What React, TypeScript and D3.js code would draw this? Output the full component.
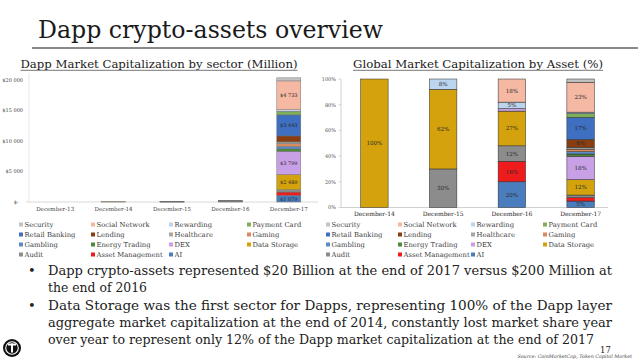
import React from "react";
import * as d3 from "d3";

const categoriesL = ["December-13", "December-14", "December-15", "December-16", "December-17"];
const categoriesR = ["December-14", "December-15", "December-16", "December-17"];
const sectors = ["Security", "Social Network", "Rewarding", "Payment Card", "Retail Banking", "Lending", "Healthcare", "Gaming", "Gambling", "Energy Trading", "DEX", "Data Storage", "Audit", "Asset Management", "AI"];
const sectorColors = ["#c3c3c3", "#f4b8a3", "#bcd4ee", "#7fae5a", "#3e6fc0", "#8a3d10", "#a6a6a6", "#d98b5f", "#5b8bc4", "#4f8a3a", "#c8a0e6", "#d4a20c", "#8c8c8c", "#ee1c1c", "#4a7dbd"];

// Market capitalization in $ million, per sector (order of `sectors`), per December (13..17)
const capSecurity = [0, 0, 0, 0, 500];
const capSocial = [0, 0, 0, 41, 4733];
const capRewarding = [0, 0, 6, 11, 250];
const capPayment = [0, 0, 0, 0, 600];
const capRetail = [0, 0, 0, 0, 3443];
const capLending = [0, 0, 0, 0, 980];
const capHealthcare = [0, 0, 0, 0, 300];
const capGaming = [0, 0, 0, 0, 450];
const capGambling = [0, 0, 0, 0, 400];
const capEnergy = [0, 0, 0, 0, 400];
const capDEX = [0, 0, 0, 5, 3799];
const capDataStorage = [0, 40, 50, 62, 2489];
const capAudit = [0, 0, 24, 28, 380];
const capAsset = [0, 0, 0, 37, 550];
const capAI = [0, 0, 0, 46, 1079];
const capValues = [capSecurity, capSocial, capRewarding, capPayment, capRetail, capLending, capHealthcare, capGaming, capGambling, capEnergy, capDEX, capDataStorage, capAudit, capAsset, capAI];

// Share of market capitalization in %, per sector, per December (14..17)
const pctSecurity = [0, 0, 0, 2.5];
const pctSocial = [0, 0, 18, 23.3];
const pctRewarding = [0, 8, 5, 1.2];
const pctPayment = [0, 0, 0, 2.9];
const pctRetail = [0, 0, 0, 17.2];
const pctLending = [0, 0, 0, 6];
const pctHealthcare = [0, 0, 0, 1.5];
const pctGaming = [0, 0, 0, 2];
const pctGambling = [0, 0, 0, 1.8];
const pctEnergy = [0, 0, 0, 1.7];
const pctDEX = [0, 0, 2, 18.2];
const pctDataStorage = [100, 62, 27, 12];
const pctAudit = [0, 30, 12, 2];
const pctAsset = [0, 0, 16, 2.7];
const pctAI = [0, 0, 20, 5];
const pctValues = [pctSecurity, pctSocial, pctRewarding, pctPayment, pctRetail, pctLending, pctHealthcare, pctGaming, pctGambling, pctEnergy, pctDEX, pctDataStorage, pctAudit, pctAsset, pctAI];

const capTicks = [0, 5000, 10000, 15000, 20000];
const pctTicks = [0, 20, 40, 60, 80, 100];

const FONT = "DejaVu Serif";
const colorOf = (s: string) => sectorColors[sectors.indexOf(s)];
const stackKeys = [...sectors].reverse();

function buildRows(cats: string[], vals: number[][]) {
  return cats.map((c, i) => {
    const r: any = { cat: c };
    sectors.forEach((s, k) => (r[s] = vals[k][i]));
    return r;
  });
}

function Legend({ x0, cols }: { x0: number; cols: number[] }) {
  return (
    <g>
      {sectors.map((s, i) => {
        const col = i % 4;
        const row = Math.floor(i / 4);
        const x = x0 + cols[col];
        const y = 224.5 + row * 10;
        return (
          <g key={s}>
            <rect x={x} y={y - 2} width={4} height={4} fill={colorOf(s)} />
            <text x={x + 5.5} y={y + 2.3} fontSize={6.8} fontFamily={FONT} fill="#404040">{s}</text>
          </g>
        );
      })}
    </g>
  );
}

export default function App() {
  // left chart
  const xL = d3.scaleBand().domain(categoriesL).range([26, 318]);
  const yL = d3.scaleLinear().domain([0, 20000]).range([202, 80]);
  const bwL = 24;
  const seriesL = d3.stack().keys(stackKeys)(buildRows(categoriesL, capValues));
  const fmtCap = (v: number) => (v === 0 ? "$-" : "$" + d3.format(",")(v).replace(/,/g, " "));

  // right chart
  const xR = d3.scaleBand().domain(categoriesR).range([340, 615]);
  const yR = d3.scaleLinear().domain([0, 100]).range([207.5, 79]);
  const bwR = 27.5;
  const seriesR = d3.stack().keys(stackKeys)(buildRows(categoriesR, pctValues));

  return (
    <svg width={638} height={359} style={{ position: "absolute", left: 0, top: 0, background: "#fff" }}>
      <rect width={638} height={359} fill="#fff" />
      {/* Title */}
      <text x={38} y={38} fontSize={24} fontFamily={FONT} fill="#1a1a1a" textLength={345} lengthAdjust="spacingAndGlyphs">Dapp crypto-assets overview</text>
      <line x1={32} x2={638} y1={48} y2={48} stroke="#8a8a8a" strokeWidth={2} />

      {/* Left chart */}
      <text x={20.5} y={68} fontSize={10.5} fontFamily={FONT} fill="#1a1a1a" textLength={277} lengthAdjust="spacingAndGlyphs">Dapp Market Capitalization by sector (Million)</text>
      <line x1={20.5} x2={297.5} y1={70.3} y2={70.3} stroke="#1a1a1a" strokeWidth={0.6} />
      <line x1={29} x2={29} y1={73} y2={202} stroke="#d9d9d9" strokeWidth={0.6} />
      <line x1={26} x2={318} y1={202} y2={202} stroke="#cfcfcf" strokeWidth={0.8} />
      {capTicks.map((t) => (
        <text key={t} x={t === 0 ? 18.5 : 23} y={yL(t) + 1.8} fontSize={5} fontFamily={FONT} fill="#404040" textAnchor="end">{fmtCap(t)}</text>
      ))}
      {categoriesL.map((c) => (
        <text key={c} x={xL(c)! + xL.bandwidth() / 2} y={211} fontSize={5.6} fontFamily={FONT} fill="#404040" textAnchor="middle">{c}</text>
      ))}
      {seriesL.map((ser) => (
        <g key={ser.key} fill={colorOf(ser.key)}>
          {ser.map((d, i) => {
            const v = d[1] - d[0];
            if (v <= 0) return null;
            const cat = categoriesL[i];
            const x = xL(cat)! + xL.bandwidth() / 2 - bwL / 2;
            const y = yL(d[1]);
            const h = yL(d[0]) - yL(d[1]);
            return (
              <g key={cat}>
                <rect x={x} y={y} width={bwL} height={Math.max(h, 0.3)} stroke="#6a6a6a" strokeWidth={0.45} />
                {v > 1000 && (
                  <text x={x + bwL / 2} y={y + h / 2 + 1.8} fontSize={5} fontFamily={FONT} fill="#2a2a2a" textAnchor="middle">{fmtCap(v)}</text>
                )}
              </g>
            );
          })}
        </g>
      ))}
      <Legend x0={19} cols={[0, 72, 150, 228]} />

      {/* Right chart */}
      <text x={353} y={68} fontSize={10.5} fontFamily={FONT} fill="#1a1a1a" textLength={250} lengthAdjust="spacingAndGlyphs">Global Market Capitalization by Asset (%)</text>
      <line x1={353} x2={603} y1={70.3} y2={70.3} stroke="#1a1a1a" strokeWidth={0.6} />
      <line x1={341} x2={341} y1={79} y2={207.5} stroke="#bdbdbd" strokeWidth={0.7} />
      <line x1={341} x2={608} y1={207.5} y2={207.5} stroke="#bdbdbd" strokeWidth={0.7} />
      {pctTicks.map((t) => (
        <g key={t}>
          <line x1={338.5} x2={341} y1={yR(t)} y2={yR(t)} stroke="#bdbdbd" strokeWidth={0.6} />
          <text x={336} y={yR(t) + 1.8} fontSize={5} fontFamily={FONT} fill="#505050" textAnchor="end">{t + "%"}</text>
        </g>
      ))}
      {categoriesR.map((c) => (
        <text key={c} x={xR(c)! + xR.bandwidth() / 2} y={216} fontSize={6} fontFamily={FONT} fill="#262626" textAnchor="middle">{c}</text>
      ))}
      {seriesR.map((ser) => (
        <g key={ser.key} fill={colorOf(ser.key)}>
          {ser.map((d, i) => {
            const v = d[1] - d[0];
            if (v <= 0) return null;
            const cat = categoriesR[i];
            const x = xR(cat)! + xR.bandwidth() / 2 - bwR / 2;
            const y = yR(d[1]);
            const h = yR(d[0]) - yR(d[1]);
            return (
              <g key={cat}>
                <rect x={x} y={y} width={bwR} height={h} stroke="#2a2a2a" strokeWidth={0.5} />
                {v >= 5 && (
                  <text x={x + bwR / 2} y={y + h / 2 + 2} fontSize={5.6} fontFamily={FONT} fill="#2a2a2a" textAnchor="middle">{Math.round(v) + "%"}</text>
                )}
              </g>
            );
          })}
        </g>
      ))}
      <Legend x0={326} cols={[0, 72, 145, 217]} />

      {/* Bullets */}
      <g fontFamily={FONT} fill="#222" fontSize={12.5}>
        <text x={28} y={275} fontSize={13}>•</text>
        <text x={48} y={275} textLength={564} lengthAdjust="spacingAndGlyphs">Dapp crypto-assets represented $20 Billion at the end of 2017 versus $200 Million at</text>
        <text x={48} y={292} textLength={99} lengthAdjust="spacingAndGlyphs">the end of 2016</text>
        <text x={28} y={310} fontSize={13}>•</text>
        <text x={48} y={310} textLength={564} lengthAdjust="spacingAndGlyphs">Data Storage was the first sector for Dapps, representing 100% of the Dapp layer</text>
        <text x={48} y={327} textLength={564} lengthAdjust="spacingAndGlyphs">aggregate market capitalization at the end of 2014, constantly lost market share year</text>
        <text x={48} y={344} textLength={546} lengthAdjust="spacingAndGlyphs">over year to represent only 12% of the Dapp market capitalization at the end of 2017</text>
      </g>
      <text x={600} y={352.5} fontSize={8.5} fontFamily={FONT} fill="#222">17</text>
      <text x={632} y={358.3} fontSize={4.8} fontFamily={FONT} fontStyle="italic" fill="#404040" textAnchor="end">Source: CoinMarketCap, Token Capital Market</text>

      {/* Logo */}
      <circle cx={12} cy={348} r={9} fill="#111" />
      <circle cx={12} cy={348} r={6.3} fill="none" stroke="#fff" strokeWidth={1.1} />
      <rect x={8} y={343.5} width={8} height={2} fill="#fff" />
      <rect x={11} y={343.5} width={2} height={9} fill="#fff" />
    </svg>
  );
}
